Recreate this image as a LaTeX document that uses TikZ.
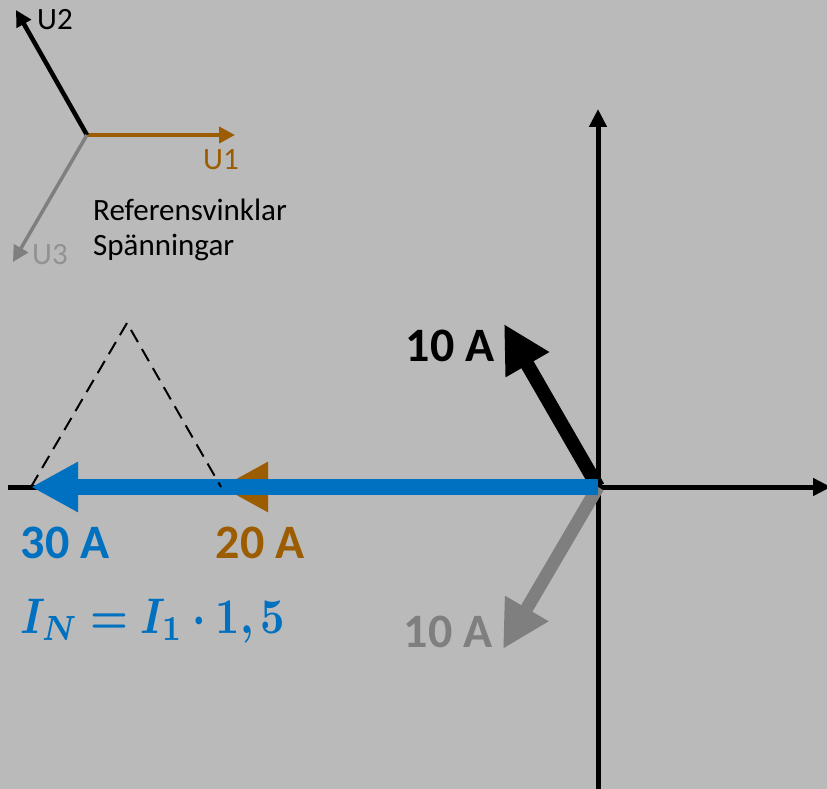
\documentclass[tikz,border=0pt]{standalone}
\usepackage{fontspec}
\setmainfont{Carlito}
\usepackage{amsmath}
\usepackage{bm}
\usepackage{graphicx}
\usetikzlibrary{arrows.meta}
\definecolor{bg}{RGB}{186,186,186}
\definecolor{blueI}{RGB}{0,112,192}
\definecolor{brownI}{RGB}{156,92,0}
\definecolor{grayI}{RGB}{127,127,127}
\tikzset{
  axisline/.style={line width=5pt, -{Triangle[length=18pt,width=17pt]}},
  phasor/.style={line width=14pt, -{Triangle[length=47pt,width=47pt]}},
  refline/.style={line width=4.5pt, -{Triangle[length=16pt,width=16pt]}},
  biglbl/.style={font=\fontsize{48}{52}\selectfont\bfseries, inner sep=0pt},
  smalllbl/.style={font=\fontsize{31}{34}\selectfont, inner sep=0pt},
  dashline/.style={line width=2pt, dash pattern=on 14pt off 8pt}
}
\begin{document}
\begin{tikzpicture}[x=1pt,y=-1pt]
\fill[bg] (0,0) rectangle (827,789);
\useasboundingbox (0,0) rectangle (827,789);
% reference voltages
\coordinate (R) at (87,135);
\coordinate (U1t) at (235,135);
\coordinate (U2t) at (16,10);
\coordinate (U3t) at (13,262);
\draw[refline, color=brownI] (R) -- (U1t);
\draw[refline, color=black] (R) -- (U2t);
\draw[refline, color=grayI, line width=3.5pt] (R) -- (U3t);
\node[smalllbl, text=black] (lu2) at (55,20) {U2};
\node[smalllbl, text=brownI] (lu1) at (221,160) {U1};
\node[smalllbl, text=grayI!85!white] (lu3) at (50,255) {U3};
\node[smalllbl, anchor=west, align=left, font=\fontsize{31}{35}\selectfont] (ref) at (93,230) {Referensvinklar\\Spänningar};
% axes
\coordinate (O) at (598,487);
\coordinate (vt) at (598,109);
\coordinate (vb) at (598,789);
\coordinate (hl) at (8,487);
\coordinate (hr) at (831,487);
\draw[line width=5pt] (O) -- (vb);
\draw[axisline] (O) -- (vt);
\draw[line width=5pt] (O) -- (hl);
\draw[axisline] (O) -- (hr);
% phasors
\coordinate (t10) at (504,324);
\coordinate (t10g) at (503,649);
\coordinate (t20) at (221,487);
\coordinate (t30) at (31,487);
\draw[phasor, color=grayI, line width=13pt] (O) -- (t10g);
\draw[phasor, color=black] (O) -- (t10);
\draw[phasor, color=brownI] (O) -- (t20);
\draw[phasor, color=blueI, line width=16pt] (O) -- (t30);
% dashed triangle
\coordinate (apex) at (127,323);
\draw[dashline] (t30) -- (apex) -- (t20);
% labels
\node[biglbl, text=black] (l10) at (450,346) {10 A};
\node[biglbl, text=grayI] (l10g) at (448,632) {10 A};
\node[biglbl, text=blueI] (l30) at (65,543) {30 A};
\node[biglbl, text=brownI] (l20) at (260,543) {20 A};
\node[text=blueI, inner sep=0pt, anchor=north west] (form) at (20,599) {\resizebox*{265pt}{44pt}{$\bm{I_N = I_1\cdot 1,5}$}};
\end{tikzpicture}
\end{document}
